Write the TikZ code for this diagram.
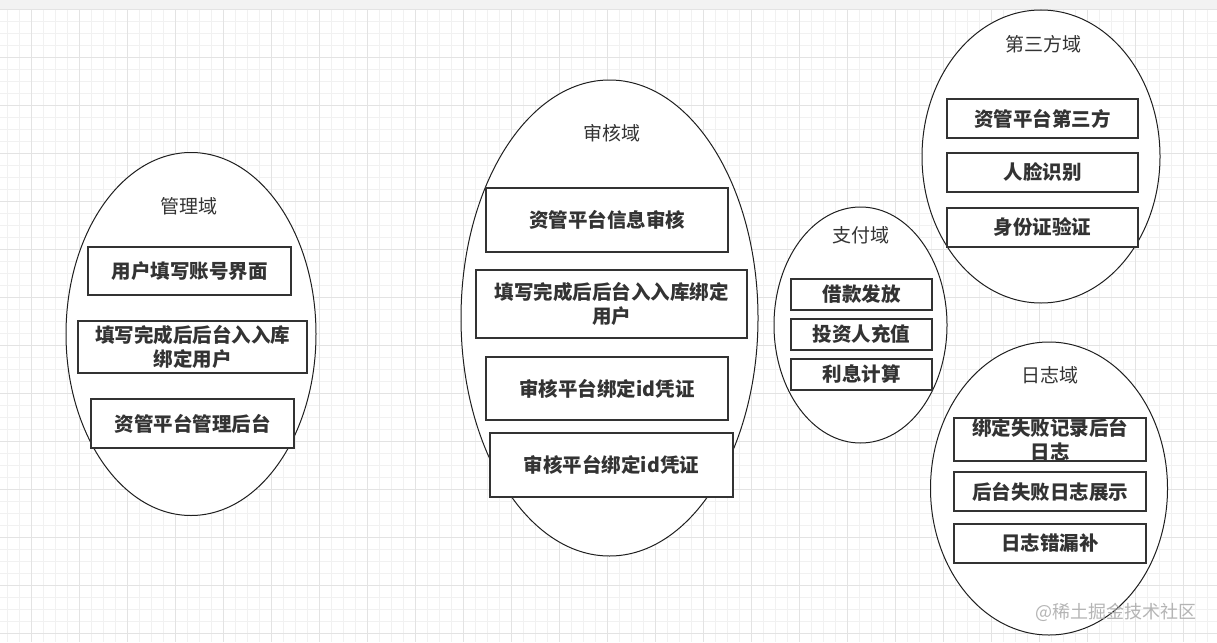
\documentclass[tikz,border=0pt]{standalone}
\usepackage{fontspec}
\setmainfont{Noto Sans CJK SC}
\usetikzlibrary{shapes.geometric}
\definecolor{gminor}{HTML}{F1F1F1}
\definecolor{gmajor}{HTML}{E3E3E3}
\definecolor{topbar}{HTML}{F2F2F2}
\definecolor{txt}{HTML}{333333}
\definecolor{wm}{HTML}{A8A8A8}
\tikzset{
  domainell/.style={ellipse, draw=black!88, line width=1pt, fill=white, inner sep=0pt},
  dtitle/.style={font=\fontsize{19}{22}\selectfont, text=txt, inner sep=0pt},
  itembox/.style={draw=txt, line width=1.4pt, fill=white, inner sep=0pt,
    font=\bfseries\fontsize{19.5}{24}\selectfont, text=txt, align=center},
  gminorline/.style={draw=gminor, line width=0.8pt},
  gmajorline/.style={draw=gmajor, line width=0.9pt},
}
\begin{document}
\begin{tikzpicture}[x=1pt,y=-1pt]
\useasboundingbox (0,0) rectangle (1217,642);
\fill[white] (0,0) rectangle (1217,642);
% grid
\foreach \x in {7.7,19.7,...,1217} \draw[gminorline] (\x,9) -- (\x,642);
\foreach \y in {9,21,...,642} \draw[gminorline] (0,\y) -- (1217,\y);
\foreach \x in {31.7,79.7,...,1217} \draw[gmajorline] (\x,9) -- (\x,642);
\foreach \y in {9,57,...,642} \draw[gmajorline] (0,\y) -- (1217,\y);
\fill[topbar] (0,0) rectangle (1217,9);

% 管理域
\node[domainell, minimum width=250pt, minimum height=363pt] (glE) at (191,334) {};
\node[dtitle] (glT) at (189,206) {管理域};
\node[itembox, minimum width=203pt, minimum height=48pt] (gl1) at (189.5,271) {用户填写账号界面};
\node[itembox, minimum width=229pt, minimum height=52pt] (gl2) at (192.5,347) {填写完成后后台入入库\\绑定用户};
\node[itembox, minimum width=203pt, minimum height=49pt] (gl3) at (192.5,423.5) {资管平台管理后台};

% 审核域
\node[domainell, minimum width=297pt, minimum height=476pt] (shE) at (609.5,318) {};
\node[dtitle] (shT) at (612,133) {审核域};
\node[itembox, minimum width=242pt, minimum height=64pt] (sh1) at (607,220) {资管平台信息审核};
\node[itembox, minimum width=271pt, minimum height=68pt] (sh2) at (611.5,304) {填写完成后后台入入库绑定\\用户};
\node[itembox, minimum width=242pt, minimum height=63pt] (sh3) at (607,388.5) {审核平台绑定id凭证};
\node[itembox, minimum width=243pt, minimum height=64pt] (sh4) at (611.5,465) {审核平台绑定id凭证};

% 支付域
\node[domainell, minimum width=173pt, minimum height=236pt] (zfE) at (860.5,325) {};
\node[dtitle] (zfT) at (861,235) {支付域};
\node[itembox, minimum width=141pt, minimum height=31pt] (zf1) at (861.5,294.5) {借款发放};
\node[itembox, minimum width=141pt, minimum height=31pt] (zf2) at (861.5,334.5) {投资人充值};
\node[itembox, minimum width=141pt, minimum height=31pt] (zf3) at (861.5,374.5) {利息计算};

% 第三方域
\node[domainell, minimum width=238pt, minimum height=293pt] (dsE) at (1041,156.5) {};
\node[dtitle] (dsT) at (1043,44) {第三方域};
\node[itembox, minimum width=191pt, minimum height=39pt] (ds1) at (1042.5,118.5) {资管平台第三方};
\node[itembox, minimum width=191pt, minimum height=39pt] (ds2) at (1042.5,172.5) {人脸识别};
\node[itembox, minimum width=191pt, minimum height=39pt] (ds3) at (1042.5,227.5) {身份证验证};

% 日志域
\node[domainell, minimum width=237pt, minimum height=293pt] (rzE) at (1049,488.5) {};
\node[dtitle] (rzT) at (1050,375) {日志域};
\node[itembox, minimum width=192pt, minimum height=39pt] (rz1) at (1050,439.5) {绑定失败记录后台\\日志};
\node[itembox, minimum width=192pt, minimum height=39pt] (rz2) at (1050,491.5) {后台失败日志展示};
\node[itembox, minimum width=192pt, minimum height=39pt] (rz3) at (1050,543.5) {日志错漏补};

% watermark
\node[text=wm, opacity=0.85, font=\fontsize{18}{20}\selectfont, inner sep=0pt] (wmk) at (1116,612) {@稀土掘金技术社区};
\end{tikzpicture}
\end{document}
